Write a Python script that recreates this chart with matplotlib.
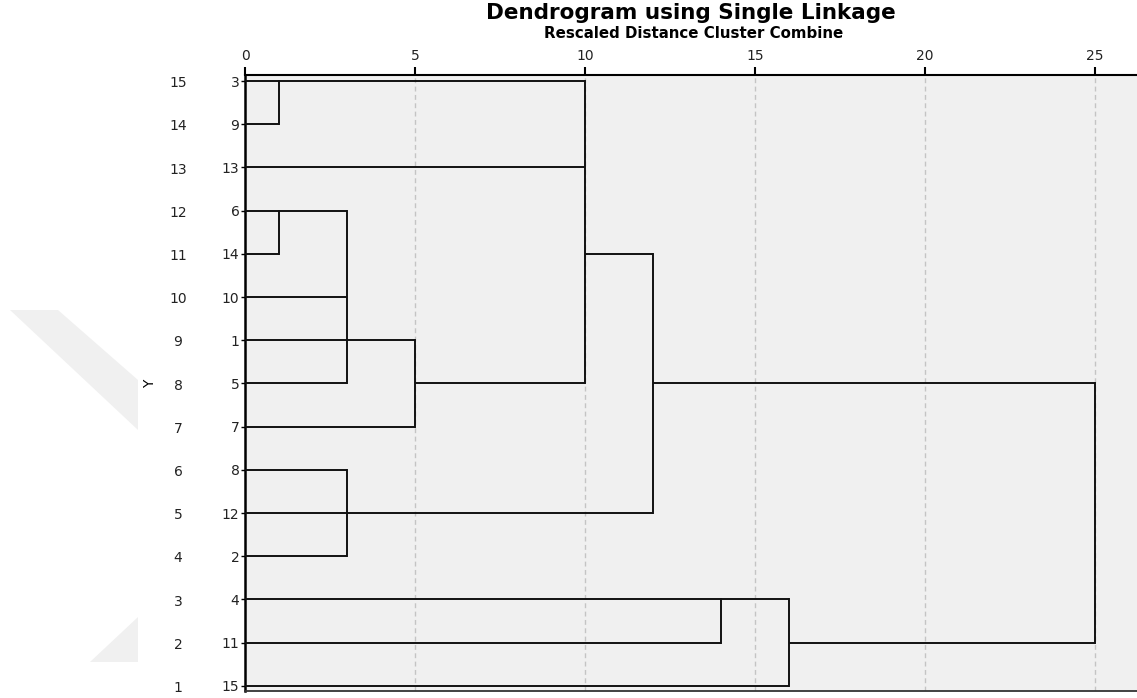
import matplotlib
matplotlib.use("Agg")
import matplotlib.pyplot as plt
from matplotlib.patches import Polygon
from matplotlib.transforms import blended_transform_factory

plt.rcParams['font.family'] = ['DejaVu Sans']

# rows from top (15) to bottom (1) and the case shown on each row
row_numbers = list(range(15, 0, -1))
case_labels = [3, 9, 13, 6, 14, 10, 1, 5, 7, 8, 12, 2, 4, 11, 15]

# merges: rescaled distance, rows joined, row the new cluster continues on
merge_heights = [1, 1, 3, 5, 10, 3, 12, 14, 16, 25]
merge_children = [(15, 14), (12, 11), (12, 10, 9, 8), (9, 7), (15, 13, 8),
                  (6, 5, 4), (11, 5), (3, 2), (3, 1), (8, 2)]
merge_out_rows = [15, 12, 9, 8, 11, 5, 8, 3, 2, None]

x_ticks = [0, 5, 10, 15, 20, 25]

W, H = 1137, 698
fig = plt.figure(figsize=(W / 100, H / 100), dpi=100)
fig.patch.set_facecolor("white")

# faint watermark shapes on the left
band = Polygon([(10 / W, 1 - 310 / H), (58 / W, 1 - 310 / H), (138 / W, 1 - 380 / H),
                (138 / W, 1 - 430 / H)], closed=True, transform=fig.transFigure,
               facecolor="#f0f0f0", edgecolor="none", zorder=0)
tri = Polygon([(138 / W, 1 - 617 / H), (90 / W, 1 - 662 / H), (138 / W, 1 - 662 / H)],
              closed=True, transform=fig.transFigure, facecolor="#f0f0f0",
              edgecolor="none", zorder=0)
fig.patches.extend([band, tri])

ax = fig.add_axes([245 / W, 7 / H, (W - 245) / W, (691 - 75) / H])
ax.set_facecolor("#f0f0f0")
ax.set_xlim(0, 26.24)
ax.set_ylim(0.88, 15.14)

for x in x_ticks[1:]:
    ax.axvline(x, color="#c4c4c4", lw=1, linestyle=(0, (3.5, 2.5)), zorder=1)

# draw the tree
start = {r: 0 for r in row_numbers}
for h, kids, out in zip(merge_heights, merge_children, merge_out_rows):
    for r in kids:
        ax.plot([start[r], h], [r, r], color="#111111", lw=1.4, solid_capstyle="butt", zorder=3)
    ax.plot([h, h], [min(kids), max(kids)], color="#111111", lw=1.4, zorder=3)
    if out is not None:
        start[out] = h

# axes styling
ax.spines["right"].set_visible(False)
ax.spines["top"].set_linewidth(1.5)
ax.spines["left"].set_linewidth(1.8)
ax.spines["bottom"].set_linewidth(1.3)
ax.spines["bottom"].set_color("#333333")

ax.xaxis.tick_top()
ax.set_xticks(x_ticks)
ax.set_xticklabels([str(t) for t in x_ticks])
ax.tick_params(axis="x", direction="out", length=6, width=1.5, labelsize=10,
               labelcolor="#222222", pad=3)

ax.set_yticks(row_numbers)
ax.set_yticklabels([str(c) for c in case_labels])
ax.tick_params(axis="y", direction="out", length=3, width=1, labelsize=10,
               labelcolor="#222222", pad=1)

# row numbers column and the Y label
tr = blended_transform_factory(fig.transFigure, ax.transData)
for r in row_numbers:
    ax.text(178 / W, r - 0.05, str(r), transform=tr, ha="center", va="center",
            fontsize=10, color="#222222", clip_on=False)
ax.text(150 / W, 8, "Y", transform=tr, ha="center", va="center", rotation=90,
        fontsize=10, clip_on=False)

fig.text(691 / W, 1 - 13 / H, "Dendrogram using Single Linkage", ha="center",
         va="center", fontsize=15.5, fontweight="bold")
fig.text(694 / W, 1 - 33 / H, "Rescaled Distance Cluster Combine", ha="center",
         va="center", fontsize=10.8, fontweight="heavy")

fig.savefig("out.png", dpi=100)
